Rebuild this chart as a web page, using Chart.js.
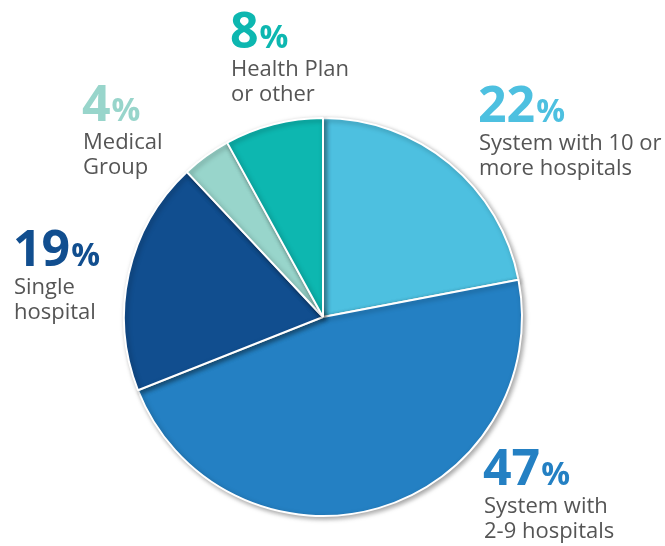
<!DOCTYPE html>
<html>
<head>
<meta charset="utf-8">
<script src="https://cdn.jsdelivr.net/npm/chart.js@4.4.0/dist/chart.umd.min.js"></script>
<style>
    html, body { margin: 0; padding: 0; background: #fff; }
    #wrap { width: 665px; height: 546px; position: relative; }
</style>
</head>
<body>
<div id="wrap"><canvas id="pieChart"></canvas></div>
<script>
// data
var categories = ["System with 10 or more hospitals", "System with 2-9 hospitals", "Single hospital", "Medical Group", "Health Plan or other"];
var values = [22, 47, 19, 4, 8];
var labelLines = [["System with 10 or", "more hospitals"], ["System with", "2-9 hospitals"], ["Single", "hospital"], ["Medical", "Group"], ["Health Plan", "or other"]];
var colors = ["#4dc0e0", "#2480c3", "#114e8f", "#98d5cb", "#0db7b0"];

var fontFamily = "'Open Sans'";
var textColor = "#555555";

// where each label block sits (x, baseline of the big number)
var labelPos = [
    { x: 478, y: 122 },
    { x: 483, y: 485 },
    { x: 13, y: 266 },
    { x: 82, y: 121 },
    { x: 230, y: 48 },
];

var pieShadow = {
    id: "pieShadow",
    beforeDatasetDraw: function (chart) {
        var ctx = chart.ctx;
        ctx.save();
        ctx.shadowColor = "rgba(0,0,0,0.35)";
        ctx.shadowBlur = 5;
        ctx.shadowOffsetX = 2;
        ctx.shadowOffsetY = 2;
    },
    afterDatasetDraw: function (chart) {
        chart.ctx.restore();
    },
};

var sideLabels = {
    id: "sideLabels",
    afterDraw: function (chart) {
        var ctx = chart.ctx;
        ctx.save();
        ctx.textBaseline = "alphabetic";
        ctx.textAlign = "left";
        values.forEach(function (v, i) {
            var p = labelPos[i];
            ctx.fillStyle = colors[i];
            ctx.font = "bold 50px " + fontFamily;
            var num = String(v);
            ctx.fillText(num, p.x, p.y);
            var w = ctx.measureText(num).width;
            ctx.font = "bold 32px " + fontFamily;
            ctx.fillText("%", p.x + w + 1, p.y);
            ctx.fillStyle = textColor;
            ctx.font = "22px " + fontFamily;
            labelLines[i].forEach(function (line, j) {
                ctx.fillText(line, p.x + 1, p.y + 28 + j * 25);
            });
        });
        ctx.restore();
    },
};

let config_pie = {
    type: "pie",
    data: {
        labels: categories,
        datasets: [
            {
                data: values,
                backgroundColor: colors,
                hoverBackgroundColor: colors,
                borderColor: "#ffffff",
                borderWidth: 2,
            },
        ],
    },
    options: {
        responsive: true,
        maintainAspectRatio: false,
        animation: false,
        layout: {
            padding: { left: 123, right: 142, top: 117, bottom: 29 },
        },
        plugins: {
            legend: { display: false },
            tooltip: { enabled: false },
        },
    },
    plugins: [pieShadow, sideLabels],
};

var pieChart = new Chart("pieChart", config_pie);
</script>
</body>
</html>
